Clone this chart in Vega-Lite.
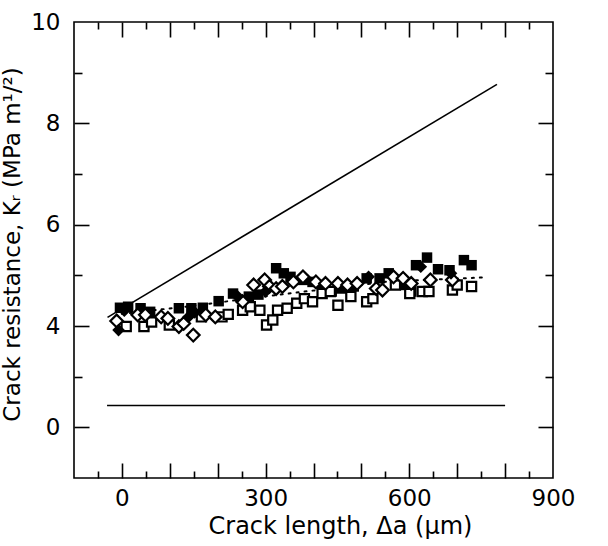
{
  "$schema": "https://vega.github.io/schema/vega-lite/v6.json",
  "width": 479,
  "height": 456,
  "autosize": {"type": "none"},
  "padding": {"left": 74, "top": 22, "right": 55, "bottom": 68},
  "background": "white",
  "config": {
    "view": {"stroke": "black", "strokeWidth": 1.6},
    "font": "DejaVu Sans",
    "axis": {"grid": false, "domain": false, "labelColor": "black", "titleColor": "black", "tickColor": "black", "labelFont": "DejaVu Sans", "titleFont": "DejaVu Sans", "titleFontWeight": "normal"}
  },
  "datasets": {
    "lines": [
      {"line": "rising", "x": -30, "y": 4.17},
      {"line": "rising", "x": 783, "y": 8.77},
      {"line": "flat", "x": -31, "y": 2.43},
      {"line": "flat", "x": 800, "y": 2.43}
    ],
    "fit": [
      {"x": 0, "y": 4.24},
      {"x": 150, "y": 4.40},
      {"x": 312, "y": 4.60},
      {"x": 557, "y": 4.88},
      {"x": 760, "y": 4.96}
    ],
    "pts": [
      {"s": "fs", "x": -4, "y": 4.36}, {"s": "fs", "x": 13, "y": 4.38}, {"s": "fs", "x": 39, "y": 4.35}, {"s": "fs", "x": 59, "y": 4.28},
      {"s": "fs", "x": 119, "y": 4.35}, {"s": "fs", "x": 145, "y": 4.35}, {"s": "fs", "x": 169, "y": 4.36}, {"s": "fs", "x": 202, "y": 4.49},
      {"s": "fs", "x": 232, "y": 4.64}, {"s": "fs", "x": 265, "y": 4.58}, {"s": "fs", "x": 285, "y": 4.62}, {"s": "fs", "x": 322, "y": 5.14},
      {"s": "fs", "x": 338, "y": 5.04}, {"s": "fs", "x": 352, "y": 4.97}, {"s": "fs", "x": 378, "y": 4.91}, {"s": "fs", "x": 398, "y": 4.87},
      {"s": "fs", "x": 418, "y": 4.81}, {"s": "fs", "x": 438, "y": 4.68}, {"s": "fs", "x": 458, "y": 4.74}, {"s": "fs", "x": 484, "y": 4.78},
      {"s": "fs", "x": 511, "y": 4.94}, {"s": "fs", "x": 538, "y": 4.94}, {"s": "fs", "x": 557, "y": 5.04}, {"s": "fs", "x": 591, "y": 4.81},
      {"s": "fs", "x": 604, "y": 4.68}, {"s": "fs", "x": 614, "y": 5.20}, {"s": "fs", "x": 637, "y": 5.35}, {"s": "fs", "x": 660, "y": 5.12},
      {"s": "fs", "x": 684, "y": 5.10}, {"s": "fs", "x": 714, "y": 5.30}, {"s": "fs", "x": 730, "y": 5.20},
      {"s": "fd", "x": -7, "y": 3.92}, {"s": "fd", "x": 5, "y": 4.30}, {"s": "fd", "x": 139, "y": 4.18}, {"s": "fd", "x": 152, "y": 4.27},
      {"s": "fd", "x": 242, "y": 4.58}, {"s": "fd", "x": 300, "y": 4.68}, {"s": "fd", "x": 515, "y": 4.97}, {"s": "fd", "x": 624, "y": 5.17},
      {"s": "fd", "x": 687, "y": 5.04},
      {"s": "od", "x": -11, "y": 4.10}, {"s": "od", "x": 33, "y": 4.22}, {"s": "od", "x": 49, "y": 4.22}, {"s": "od", "x": 82, "y": 4.18},
      {"s": "od", "x": 96, "y": 4.15}, {"s": "od", "x": 119, "y": 3.99}, {"s": "od", "x": 129, "y": 4.05}, {"s": "od", "x": 149, "y": 3.82},
      {"s": "od", "x": 175, "y": 4.22}, {"s": "od", "x": 195, "y": 4.18}, {"s": "od", "x": 252, "y": 4.48}, {"s": "od", "x": 275, "y": 4.81},
      {"s": "od", "x": 298, "y": 4.91}, {"s": "od", "x": 308, "y": 4.78}, {"s": "od", "x": 322, "y": 4.74}, {"s": "od", "x": 335, "y": 4.78},
      {"s": "od", "x": 358, "y": 4.87}, {"s": "od", "x": 378, "y": 4.97}, {"s": "od", "x": 405, "y": 4.87}, {"s": "od", "x": 425, "y": 4.84},
      {"s": "od", "x": 451, "y": 4.84}, {"s": "od", "x": 471, "y": 4.81}, {"s": "od", "x": 491, "y": 4.84}, {"s": "od", "x": 531, "y": 4.74},
      {"s": "od", "x": 544, "y": 4.71}, {"s": "od", "x": 567, "y": 4.97}, {"s": "od", "x": 587, "y": 4.94}, {"s": "od", "x": 604, "y": 4.84},
      {"s": "od", "x": 644, "y": 4.91}, {"s": "od", "x": 690, "y": 4.91},
      {"s": "os", "x": 9, "y": 3.99}, {"s": "os", "x": 46, "y": 3.99}, {"s": "os", "x": 62, "y": 4.08}, {"s": "os", "x": 99, "y": 4.02},
      {"s": "os", "x": 166, "y": 4.18}, {"s": "os", "x": 209, "y": 4.18}, {"s": "os", "x": 222, "y": 4.23}, {"s": "os", "x": 252, "y": 4.31},
      {"s": "os", "x": 268, "y": 4.38}, {"s": "os", "x": 288, "y": 4.31}, {"s": "os", "x": 302, "y": 4.02}, {"s": "os", "x": 315, "y": 4.12},
      {"s": "os", "x": 325, "y": 4.31}, {"s": "os", "x": 345, "y": 4.35}, {"s": "os", "x": 365, "y": 4.45}, {"s": "os", "x": 381, "y": 4.54},
      {"s": "os", "x": 398, "y": 4.48}, {"s": "os", "x": 418, "y": 4.64}, {"s": "os", "x": 435, "y": 4.68}, {"s": "os", "x": 451, "y": 4.41},
      {"s": "os", "x": 478, "y": 4.58}, {"s": "os", "x": 511, "y": 4.48}, {"s": "os", "x": 524, "y": 4.54}, {"s": "os", "x": 571, "y": 4.81},
      {"s": "os", "x": 601, "y": 4.64}, {"s": "os", "x": 627, "y": 4.68}, {"s": "os", "x": 641, "y": 4.68}, {"s": "os", "x": 690, "y": 4.71},
      {"s": "os", "x": 700, "y": 4.81}, {"s": "os", "x": 730, "y": 4.78}
    ]
  },
  "resolve": {"axis": {"x": "independent", "y": "independent"}},
  "layer": [
    {
      "data": {"name": "lines"},
      "mark": {"type": "line", "color": "black", "strokeWidth": 1.6},
      "encoding": {
        "detail": {"field": "line"},
        "x": {"field": "x", "type": "quantitative", "scale": {"domain": [-100, 900], "nice": false, "zero": false},
          "axis": {"orient": "bottom", "values": [0, 300, 600, 900], "ticks": false, "labelPadding": 9, "labelFontSize": 23, "labelFlush": false,
            "title": "Crack length, Δa (μm)", "titleFontSize": 24, "titlePadding": 4, "titleX": 266, "titleAlign": "center"}},
        "y": {"field": "y", "type": "quantitative", "scale": {"domain": [1, 10], "nice": false, "zero": false},
          "axis": {"orient": "left", "values": [2, 4, 6, 8, 10], "ticks": false, "offset": 6, "labelPadding": 8, "labelFontSize": 23,
            "labelExpr": "datum.value == 2 ? '0' : datum.label",
            "title": "Crack resistance, Kᵣ (MPa m¹/²)", "titleFontSize": 23, "titlePadding": 6, "titleY": 222, "titleAlign": "center"}}
      }
    },
    {
      "data": {"name": "fit"},
      "mark": {"type": "line", "color": "black", "strokeWidth": 2, "strokeDash": [2, 6], "strokeCap": "round"},
      "encoding": {
        "x": {"field": "x", "type": "quantitative", "scale": {"domain": [-100, 900], "nice": false, "zero": false},
          "axis": {"orient": "bottom", "values": [0, 100, 200, 300, 400, 500, 600, 700, 800], "labels": false, "tickSize": 15, "offset": -15, "tickWidth": 1.6, "title": null}},
        "y": {"field": "y", "type": "quantitative", "scale": {"domain": [1, 10], "nice": false, "zero": false},
          "axis": {"orient": "left", "values": [2, 4, 6, 8], "labels": false, "tickSize": 15, "offset": -15, "tickWidth": 1.6, "title": null}}
      }
    },
    {
      "data": {"name": "pts"},
      "transform": [{"filter": "datum.s == 'fs'"}],
      "mark": {"type": "point", "shape": "square", "filled": true, "fill": "black", "opacity": 1, "size": 110},
      "encoding": {
        "x": {"field": "x", "type": "quantitative", "scale": {"domain": [-100, 900], "nice": false, "zero": false},
          "axis": {"orient": "bottom", "values": [-50, 50, 150, 250, 350, 450, 550, 650, 750, 850], "labels": false, "tickSize": 7, "offset": -7, "tickWidth": 1.6, "title": null}},
        "y": {"field": "y", "type": "quantitative", "scale": {"domain": [1, 10], "nice": false, "zero": false},
          "axis": {"orient": "left", "values": [3, 5, 7, 9], "labels": false, "tickSize": 8, "offset": -8, "tickWidth": 1.6, "title": null}}
      }
    },
    {
      "data": {"name": "pts"},
      "transform": [{"filter": "datum.s == 'os'"}],
      "mark": {"type": "point", "shape": "square", "filled": false, "fill": "white", "stroke": "black", "strokeWidth": 2.2, "opacity": 1, "size": 85},
      "encoding": {
        "x": {"field": "x", "type": "quantitative", "scale": {"domain": [-100, 900], "nice": false, "zero": false},
          "axis": {"orient": "top", "values": [0, 100, 200, 300, 400, 500, 600, 700, 800], "labels": false, "tickSize": 15, "offset": -15, "tickWidth": 1.6, "title": null}},
        "y": {"field": "y", "type": "quantitative", "scale": {"domain": [1, 10], "nice": false, "zero": false},
          "axis": {"orient": "right", "values": [2, 4, 6, 8], "labels": false, "tickSize": 15, "offset": -15, "tickWidth": 1.6, "title": null}}
      }
    },
    {
      "data": {"name": "pts"},
      "transform": [{"filter": "datum.s == 'od'"}],
      "mark": {"type": "point", "shape": "diamond", "filled": false, "fill": "white", "stroke": "black", "strokeWidth": 2.2, "opacity": 1, "size": 160},
      "encoding": {
        "x": {"field": "x", "type": "quantitative", "scale": {"domain": [-100, 900], "nice": false, "zero": false},
          "axis": {"orient": "top", "values": [-50, 50, 150, 250, 350, 450, 550, 650, 750, 850], "labels": false, "tickSize": 7, "offset": -7, "tickWidth": 1.6, "title": null}},
        "y": {"field": "y", "type": "quantitative", "scale": {"domain": [1, 10], "nice": false, "zero": false},
          "axis": {"orient": "right", "values": [3, 5, 7, 9], "labels": false, "tickSize": 8, "offset": -8, "tickWidth": 1.6, "title": null}}
      }
    },
    {
      "data": {"name": "pts"},
      "transform": [{"filter": "datum.s == 'fd'"}],
      "mark": {"type": "point", "shape": "diamond", "filled": true, "fill": "black", "opacity": 1, "size": 160},
      "encoding": {
        "x": {"field": "x", "type": "quantitative", "scale": {"domain": [-100, 900], "nice": false, "zero": false}, "axis": null},
        "y": {"field": "y", "type": "quantitative", "scale": {"domain": [1, 10], "nice": false, "zero": false}, "axis": null}
      }
    }
  ]
}
